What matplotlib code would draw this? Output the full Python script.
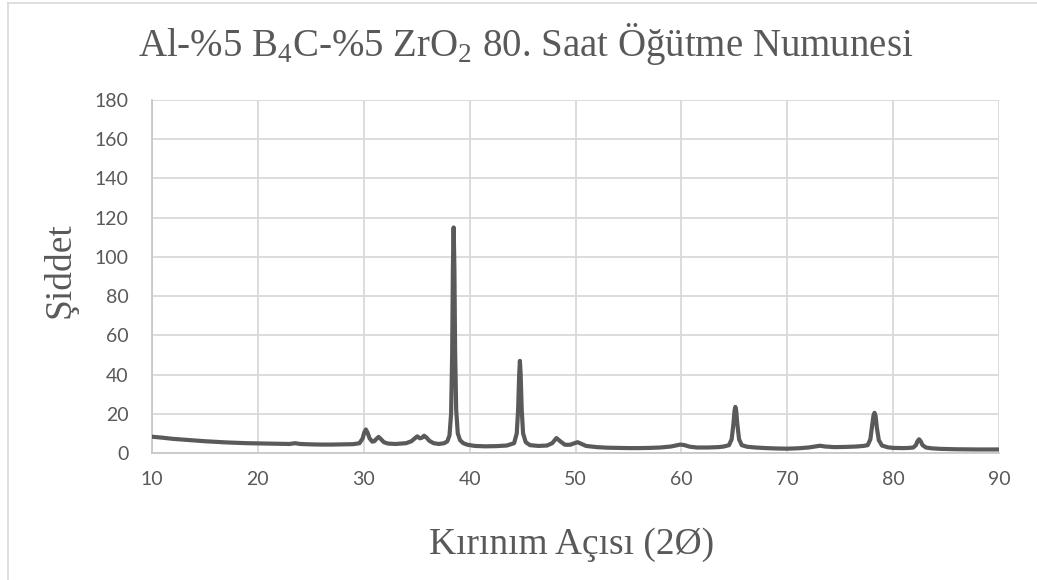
import matplotlib
matplotlib.use("Agg")
import matplotlib.pyplot as plt
from matplotlib.lines import Line2D

# Diffraction pattern: angle (2θ, degrees) and intensity
angle = [
    10, 11, 12, 13, 14, 15, 16, 17, 18, 19, 20, 21, 22, 23, 23.5, 24, 25, 26, 27, 28, 29,
    29.6, 29.9, 30.05, 30.2, 30.35, 30.55, 30.8, 31.0, 31.2, 31.4, 31.6, 31.9, 32.3, 33,
    34, 34.5, 34.9, 35.05, 35.3, 35.5, 35.7, 35.9, 36.2, 36.6, 37.1, 37.6, 37.9, 38.1,
    38.25, 38.35, 38.42, 38.49, 38.56, 38.63, 38.73, 38.88, 39.1, 39.4, 39.8, 40.5, 41.5,
    42.5, 43.5, 44.2, 44.45, 44.58, 44.68, 44.75, 44.82, 44.92, 45.05, 45.3, 45.7, 46.5,
    47.3, 47.8, 48.2, 48.6, 49.0, 49.5, 49.9, 50.2, 50.5, 51.0, 52, 53, 54, 55, 56, 57,
    58, 59, 59.6, 59.9, 60.3, 60.8, 61.5, 62.5, 63.5, 64.0, 64.5, 64.75, 64.92, 65.02,
    65.1, 65.18, 65.28, 65.45, 65.7, 66.2, 67, 68, 69, 70, 71, 72, 72.7, 73.1, 73.6, 74.5,
    75.5, 76.5, 77.2, 77.6, 77.85, 78.02, 78.14, 78.24, 78.34, 78.46, 78.65, 78.95, 79.5,
    80, 81, 81.5, 81.9, 82.15, 82.3, 82.45, 82.6, 82.78, 83.1, 83.6, 84.5, 86, 88, 90,
]
intensity = [
    8.3, 7.8, 7.2, 6.8, 6.4, 6.0, 5.7, 5.4, 5.2, 5.0, 4.9, 4.8, 4.7, 4.6, 5.0, 4.6, 4.4,
    4.3, 4.3, 4.4, 4.5,
    5.0, 7.5, 10.5, 12.0, 10.5, 7.5, 5.8, 6.0, 7.2, 8.2, 7.2, 5.5, 4.8, 4.6,
    5.0, 6.0, 7.8, 8.5, 7.5, 7.8, 8.8, 8.0, 6.2, 5.0, 4.6, 5.0, 6.0, 9.0,
    20, 50, 95, 115, 95, 52, 22, 10, 6.5, 5.0, 4.2, 3.6, 3.4,
    3.5, 3.8, 5.0, 10, 22, 40, 47, 40, 22, 10, 5.5, 4.0, 3.6,
    3.8, 5.0, 7.6, 5.8, 4.2, 4.2, 5.0, 5.5, 4.8, 3.6, 3.0, 2.7, 2.6, 2.5, 2.5, 2.6,
    2.8, 3.3, 4.0, 4.3, 4.0, 3.2, 2.8, 2.8, 3.0, 3.3, 4.0, 7.0, 15, 21.5,
    23.5, 21.5, 15, 7.0, 4.0, 3.2, 2.8, 2.5, 2.3, 2.2, 2.4, 2.8, 3.4, 3.7, 3.3, 3.0,
    3.1, 3.3, 3.6, 4.0, 7.0, 14, 19, 20.5, 19, 13, 6.5, 3.8, 2.9,
    2.6, 2.5, 2.6, 2.8, 4.0, 6.0, 7.0, 6.0, 4.0, 2.8, 2.4, 2.1, 1.9, 1.8, 1.8,
]

x_ticks = [10, 20, 30, 40, 50, 60, 70, 80, 90]
y_ticks = [0, 20, 40, 60, 80, 100, 120, 140, 160, 180]

title_text = "Al-%5 B$_\\mathregular{4}$C-%5 ZrO$_\\mathregular{2}$ 80. Saat Öğütme Numunesi"
x_label = "Kırınım Açısı (2Ø)"
y_label = "Şiddet"

plt.rcParams["mathtext.fontset"] = "custom"
plt.rcParams["mathtext.rm"] = "Liberation Serif"

text_grey = "#595959"
grid_grey = "#d9d9d9"
serif = ["Liberation Serif", "DejaVu Serif"]
sans = ["Lato", "DejaVu Sans"]

fig = plt.figure(figsize=(10.37, 5.80), dpi=100)
ax = fig.add_axes([152 / 1037, 1 - 453 / 580, (999 - 152) / 1037, (453 - 100) / 580])

ax.plot(angle, intensity, color="#5a5a5a", linewidth=3.0, solid_joinstyle="round",
        solid_capstyle="round", zorder=3)

ax.set_xlim(10, 90)
ax.set_ylim(0, 180)
ax.set_xticks(x_ticks)
ax.set_yticks(y_ticks)
ax.grid(True, color=grid_grey, linewidth=1.3, zorder=0)
ax.set_axisbelow(True)
for side in ["top", "right"]:
    ax.spines[side].set_visible(False)
for side in ["left", "bottom"]:
    ax.spines[side].set_color("#c8c8c8")
    ax.spines[side].set_linewidth(1.3)
ax.tick_params(length=0, labelcolor=text_grey, labelsize=14)
ax.tick_params(axis="y", pad=17)
ax.tick_params(axis="x", pad=13)
for lab in ax.get_xticklabels() + ax.get_yticklabels():
    lab.set_family(sans)

fig.text(0.507, 1 - 44 / 580, title_text, ha="center", va="center",
         fontsize=28, color=text_grey, family=serif)
fig.text(572 / 1037, 1 - 545 / 580, x_label, ha="center", va="center",
         fontsize=27, color=text_grey, family=serif)
fig.text(60 / 1037, 1 - 270 / 580, y_label, ha="center", va="center",
         rotation=90, fontsize=27, color=text_grey, family=serif)

# Chart frame edges
fig.add_artist(Line2D([8 / 1037, 8 / 1037], [0, 1 - 3 / 580], transform=fig.transFigure,
                      color=grid_grey, linewidth=1.2))
fig.add_artist(Line2D([8 / 1037, 1], [1 - 3 / 580, 1 - 3 / 580], transform=fig.transFigure,
                      color=grid_grey, linewidth=1.2))

fig.savefig("out.png", dpi=100, facecolor="white")
